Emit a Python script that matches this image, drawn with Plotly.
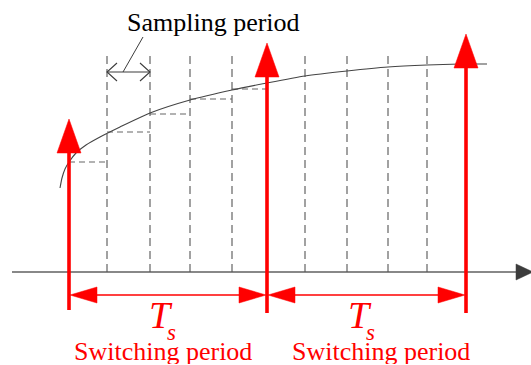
import plotly.graph_objects as go

# ---- data (diagram units: x = time position, y = level, screen-like orientation) ----
sample_x = [107, 150, 190, 232, 305, 347, 388, 427]          # sampling instants
switch_x = [69, 267, 466]                                     # switching instants
switch_tip_y = [119, 43, 34]                                  # height of switching pulses
switch_bottom_y = [310, 313, 313]
curve_x = [60, 62, 65, 69, 76, 86, 100, 120, 150, 190, 232, 267, 305, 347, 388, 427, 460, 487]
curve_y = [188, 178, 169, 162, 153, 145, 137, 127, 113, 100, 90, 83, 76, 71, 67, 65, 64, 64]
held_start = [69, 107, 150, 190, 232]
held_end = [107, 150, 190, 232, 267]
held_y = [162, 132, 114, 99, 89]
axis_y = 272
dim_y = 295
sampling_label = "Sampling period"
switching_label = "Switching period"

RED = "#ff0000"
DARK = "#3c3c3c"
SERIF = "Liberation Serif"

fig = go.Figure()

def tri(xs, ys, color):
    fig.add_trace(go.Scatter(x=xs + [xs[0]], y=ys + [ys[0]], mode="lines", fill="toself",
                             fillcolor=color, line=dict(color=color, width=0.5),
                             hoverinfo="skip", showlegend=False))

def seg(xs, ys, color, width, dash="solid"):
    fig.add_trace(go.Scatter(x=xs, y=ys, mode="lines", line=dict(color=color, width=width, dash=dash),
                             hoverinfo="skip", showlegend=False))

# time axis
seg([12, 518], [axis_y, axis_y], "#606060", 1.5)
tri([516, 533, 516], [axis_y - 8, axis_y, axis_y + 8], DARK)

# sampling dashed verticals
for sx in sample_x:
    seg([sx, sx], [axis_y, 51], "#555555", 1.1, "8px,5px")

# held (sampled) values
for a, b, h in zip(held_start, held_end, held_y):
    seg([a, b], [h, h], "#666666", 1.2, "6px,4px")

# continuous signal
fig.add_trace(go.Scatter(x=curve_x, y=curve_y, mode="lines", line=dict(color="#444444", width=1.1, shape="spline", smoothing=0.6),
                         hoverinfo="skip", showlegend=False))

# sampling period dimension
seg([sample_x[0], sample_x[1]], [72, 72], DARK, 1.1)
seg([sample_x[0] + 10, sample_x[0], sample_x[0] + 10], [63, 72, 81], DARK, 1.1)
seg([sample_x[1] - 10, sample_x[1], sample_x[1] - 10], [63, 72, 81], DARK, 1.1)
seg([123, 143], [72, 37], DARK, 1.0)

# switching pulses
for sx, ty, by in zip(switch_x, switch_tip_y, switch_bottom_y):
    seg([sx, sx], [by, ty + 30], RED, 3.6)
    tri([sx - 12, sx, sx + 12], [ty + 34, ty, ty + 34], RED)

# switching period dimensions
for a, b in zip(switch_x[:-1], switch_x[1:]):
    seg([a + 20, b - 20], [dim_y, dim_y], RED, 1.3)
    tri([a + 1, a + 28, a + 28], [dim_y, dim_y - 8, dim_y + 8], RED)
    tri([b - 1, b - 28, b - 28], [dim_y, dim_y - 8, dim_y + 8], RED)

# labels
fig.add_annotation(x=213, y=22, text=sampling_label, showarrow=False,
                   font=dict(family=SERIF, size=26, color="black"))
for cx, tx in zip([163, 381], [161, 360]):
    fig.add_annotation(x=cx, y=351, text=switching_label, showarrow=False, height=26, borderpad=0,
                       font=dict(family=SERIF, size=26, color=RED))
    fig.add_annotation(x=tx, y=315, text="<i>T</i>", showarrow=False,
                       font=dict(family=SERIF, size=38, color=RED))
    fig.add_annotation(x=tx + 10, y=332, text="<i>s</i>", showarrow=False,
                       font=dict(family=SERIF, size=23, color=RED))

fig.update_layout(width=531, height=365, margin=dict(l=0, r=0, t=0, b=0),
                  paper_bgcolor="white", plot_bgcolor="white", showlegend=False,
                  font=dict(family=SERIF),
                  xaxis=dict(range=[0, 531], visible=False, fixedrange=True),
                  yaxis=dict(range=[365, 0], visible=False, fixedrange=True))

fig.write_html("out.html", config={"displayModeBar": False},
               post_script="document.body.style.margin='0px';document.body.style.overflow='hidden';")
